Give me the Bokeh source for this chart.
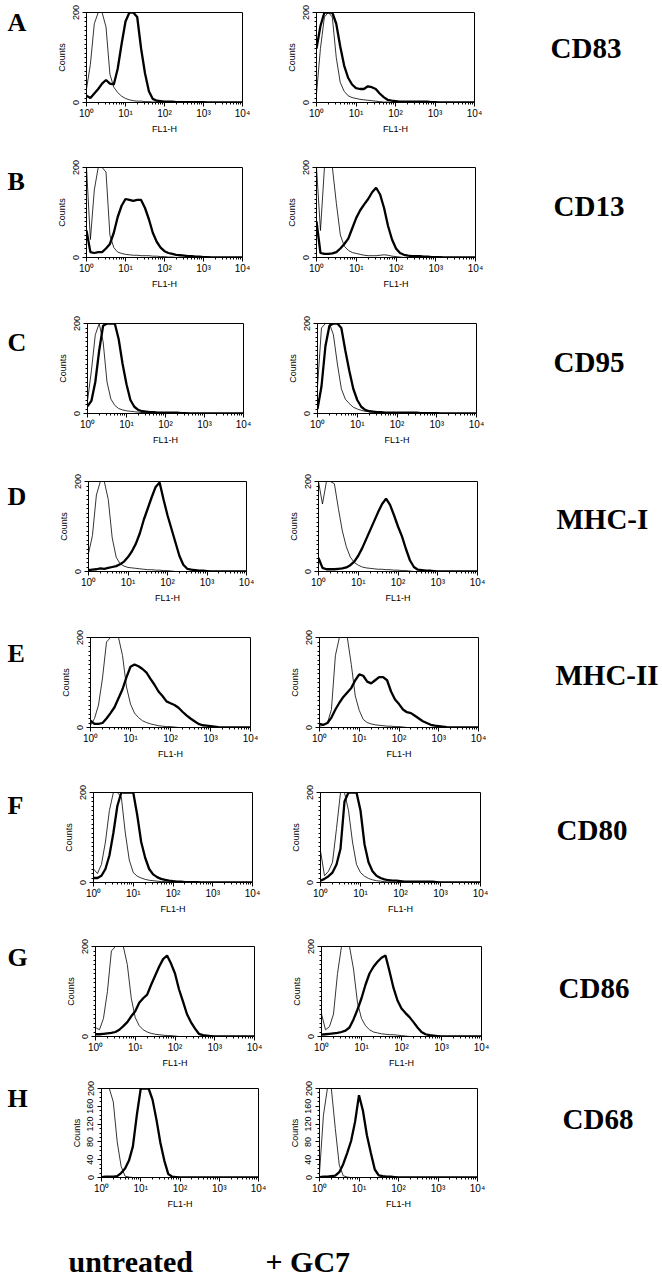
from bokeh.plotting import figure
from bokeh.layouts import row, column
from bokeh.models import FixedTicker, Range1d
from bokeh.core.properties import value
from bokeh.embed import file_html
from bokeh.resources import INLINE

# ---------------- data ----------------
# channel positions, in decades of FL1-H (10^d)
DECADES = [0.0, 0.1, 0.2, 0.3, 0.4, 0.5, 0.6, 0.7, 0.8, 0.9,
           1.0, 1.1, 1.2, 1.3, 1.4, 1.5, 1.6, 1.7, 1.8, 1.9,
           2.0, 2.1, 2.2, 2.3, 2.4, 2.5, 2.6, 2.7, 2.8, 2.9,
           3.0, 3.1, 3.2, 4.0]

PANELS = ["A", "B", "C", "D", "E", "F", "G", "H"]
MARKERS = ["CD83", "CD13", "CD95", "MHC-I", "MHC-II", "CD80", "CD86", "CD68"]
CONDITIONS = ["untreated", "+ GC7"]
X_TICKS = [1, 10, 100, 1000, 10000]
X_TICK_LABELS = ["10\u2070", "10\u00b9", "10\u00b2", "10\u00b3", "10\u2074"]
Y_TICKS_STD = [0, 200]
Y_TICKS_H = [0, 40, 80, 120, 160, 200]

# thin line = isotype control, thick line = marker staining
A_untr_iso = [30, 85, 175, 200, 200, 168, 63, 34, 22, 14,
              9, 6, 4, 3, 3, 2, 2, 1, 1, 1,
              1, 1, 1, 0, 0, 0, 0, 0, 0, 0,
              0, 0, 0, 0]
A_untr_mk = [15, 10, 20, 30, 42, 50, 42, 40, 75, 130,
             180, 200, 200, 190, 120, 65, 25, 8, 4, 3,
             2, 2, 2, 1, 1, 1, 1, 1, 1, 1,
             1, 0, 0, 0]
A_gc7_iso = [20, 120, 190, 200, 190, 100, 45, 25, 15, 11,
             9, 7, 6, 5, 4, 3, 2, 1, 1, 0,
             0, 0, 0, 0, 0, 0, 0, 0, 0, 0,
             0, 0, 0, 0]
A_gc7_mk = [120, 170, 200, 200, 200, 175, 125, 82, 55, 40,
            32, 30, 30, 36, 34, 30, 20, 12, 6, 4,
            3, 2, 2, 2, 2, 2, 2, 2, 2, 1,
            1, 0, 0, 0]

B_untr_iso = [200, 40, 150, 200, 200, 190, 50, 22, 12, 9,
              7, 6, 5, 5, 4, 4, 4, 3, 3, 2,
              2, 1, 1, 0, 0, 0, 0, 0, 0, 0,
              0, 0, 0, 0]
B_untr_mk = [60, 12, 10, 12, 12, 20, 30, 55, 90, 115,
             130, 128, 126, 128, 128, 110, 85, 55, 35, 22,
             14, 10, 8, 6, 5, 4, 3, 3, 2, 2,
             1, 1, 0, 0]
B_gc7_iso = [200, 60, 200, 200, 200, 120, 50, 25, 16, 11,
             9, 7, 5, 4, 4, 4, 5, 6, 5, 3,
             2, 1, 0, 0, 0, 0, 0, 0, 0, 0,
             0, 0, 0, 0]
B_gc7_mk = [80, 10, 8, 8, 9, 12, 20, 30, 42, 65,
            88, 105, 118, 130, 145, 155, 140, 110, 70, 40,
            20, 10, 6, 4, 3, 3, 3, 2, 2, 1,
            1, 1, 0, 0]

C_untr_iso = [28, 95, 175, 200, 160, 70, 32, 18, 11, 8,
              6, 5, 4, 3, 2, 2, 1, 0, 0, 0,
              0, 0, 0, 0, 0, 0, 0, 0, 0, 0,
              0, 0, 0, 0]
C_untr_mk = [16, 28, 70, 140, 195, 200, 200, 200, 165, 110,
             65, 30, 15, 8, 5, 4, 3, 3, 2, 2,
             2, 2, 2, 2, 1, 1, 0, 0, 0, 0,
             0, 0, 0, 0]
C_gc7_iso = [60, 190, 200, 200, 175, 110, 55, 32, 22, 14,
             10, 7, 5, 4, 3, 2, 2, 1, 0, 0,
             0, 0, 0, 0, 0, 0, 0, 0, 0, 0,
             0, 0, 0, 0]
C_gc7_mk = [10, 60, 150, 195, 200, 200, 190, 140, 95, 55,
            30, 15, 8, 5, 4, 3, 3, 2, 2, 2,
            2, 2, 2, 2, 2, 2, 1, 1, 1, 1,
            1, 0, 0, 0]

D_untr_iso = [40, 80, 170, 200, 200, 160, 75, 32, 17, 12,
              9, 8, 7, 6, 5, 4, 4, 3, 3, 2,
              2, 1, 0, 0, 0, 0, 0, 0, 0, 0,
              0, 0, 0, 0]
D_untr_mk = [3, 4, 5, 7, 6, 8, 10, 12, 16, 22,
             32, 45, 62, 85, 115, 140, 165, 188, 198, 160,
             125, 95, 65, 35, 15, 6, 4, 3, 2, 2,
             1, 0, 0, 0]
D_gc7_iso = [200, 150, 200, 200, 195, 140, 90, 55, 32, 20,
             14, 10, 8, 7, 6, 5, 5, 4, 4, 3,
             3, 2, 2, 1, 0, 0, 0, 0, 0, 0,
             0, 0, 0, 0]
D_gc7_mk = [30, 8, 5, 5, 5, 6, 7, 9, 14, 22,
            35, 52, 72, 92, 112, 132, 150, 162, 148, 125,
            100, 78, 50, 25, 10, 4, 3, 2, 2, 1,
            0, 0, 0, 0]

E_untr_iso = [5, 20, 50, 110, 190, 200, 200, 200, 160, 90,
              52, 32, 22, 15, 11, 8, 6, 4, 3, 2,
              2, 1, 0, 0, 0, 0, 0, 0, 0, 0,
              0, 0, 0, 0]
E_untr_mk = [15, 8, 8, 10, 20, 32, 45, 65, 85, 112,
             135, 140, 136, 130, 122, 108, 95, 80, 70, 58,
             54, 50, 44, 35, 27, 20, 14, 8, 5, 4,
             3, 2, 1, 0]
E_gc7_iso = [3, 5, 10, 40, 160, 200, 200, 200, 140, 70,
             38, 18, 11, 8, 6, 5, 4, 3, 3, 2,
             2, 1, 0, 0, 0, 0, 0, 0, 0, 0,
             0, 0, 0, 0]
E_gc7_mk = [8, 6, 10, 22, 40, 55, 68, 78, 88, 105,
            118, 115, 102, 98, 105, 112, 112, 105, 80, 62,
            52, 40, 34, 32, 26, 20, 14, 10, 6, 4,
            3, 2, 1, 0]

F_untr_iso = [30, 20, 40, 90, 160, 200, 200, 190, 110, 50,
              22, 14, 10, 7, 5, 4, 3, 2, 2, 1,
              0, 0, 0, 0, 0, 0, 0, 0, 0, 0,
              0, 0, 0, 0]
F_untr_mk = [10, 10, 15, 30, 60, 110, 170, 200, 200, 200,
             200, 150, 90, 55, 30, 18, 12, 8, 6, 4,
             3, 2, 2, 1, 1, 1, 1, 0, 0, 0,
             0, 0, 0, 0]
F_gc7_iso = [70, 15, 25, 45, 120, 200, 200, 160, 90, 40,
             22, 14, 9, 6, 4, 3, 2, 1, 0, 0,
             0, 0, 0, 0, 0, 0, 0, 0, 0, 0,
             0, 0, 0, 0]
F_gc7_mk = [4, 8, 14, 22, 40, 75, 180, 200, 200, 200,
            160, 85, 45, 25, 15, 10, 7, 5, 4, 4,
            3, 2, 2, 2, 2, 2, 2, 2, 2, 1,
            0, 0, 0, 0]

G_untr_iso = [20, 15, 40, 100, 190, 200, 200, 200, 160, 85,
              42, 24, 15, 10, 7, 5, 4, 3, 2, 2,
              1, 0, 0, 0, 0, 0, 0, 0, 0, 0,
              0, 0, 0, 0]
G_untr_mk = [5, 5, 6, 7, 8, 10, 15, 23, 32, 45,
             56, 75, 85, 93, 115, 135, 155, 172, 180, 162,
             140, 105, 78, 50, 32, 18, 6, 3, 2, 1,
             0, 0, 0, 0]
G_gc7_iso = [50, 15, 22, 50, 140, 200, 200, 200, 150, 75,
             40, 24, 15, 10, 8, 6, 5, 4, 4, 3,
             2, 1, 0, 0, 0, 0, 0, 0, 0, 0,
             0, 0, 0, 0]
G_gc7_mk = [4, 5, 6, 7, 8, 10, 13, 20, 38, 60,
            85, 115, 140, 155, 166, 175, 180, 145, 108, 80,
            62, 52, 43, 32, 20, 10, 5, 3, 2, 1,
            0, 0, 0, 0]

H_untr_iso = [200, 200, 200, 170, 80, 25, 3, 1, 0, 0,
              0, 0, 0, 0, 0, 0, 0, 0, 0, 0,
              0, 0, 0, 0, 0, 0, 0, 0, 0, 0,
              0, 0, 0, 0]
H_untr_mk = [1, 2, 2, 2, 3, 10, 20, 38, 70, 140,
             200, 200, 200, 175, 130, 78, 38, 8, 2, 1,
             0, 0, 0, 0, 0, 0, 0, 0, 0, 0,
             0, 0, 0, 0]
H_gc7_iso = [10, 140, 200, 200, 110, 28, 4, 1, 0, 0,
             0, 0, 0, 0, 0, 0, 0, 0, 0, 0,
             0, 0, 0, 0, 0, 0, 0, 0, 0, 0,
             0, 0, 0, 0]
H_gc7_mk = [1, 2, 2, 3, 4, 12, 30, 55, 82, 125,
            185, 150, 95, 55, 18, 5, 3, 2, 2, 1,
            0, 0, 0, 0, 0, 0, 0, 0, 0, 0,
            0, 0, 0, 0]

UNTREATED = [(A_untr_iso, A_untr_mk), (B_untr_iso, B_untr_mk), (C_untr_iso, C_untr_mk),
             (D_untr_iso, D_untr_mk), (E_untr_iso, E_untr_mk), (F_untr_iso, F_untr_mk),
             (G_untr_iso, G_untr_mk), (H_untr_iso, H_untr_mk)]
GC7 = [(A_gc7_iso, A_gc7_mk), (B_gc7_iso, B_gc7_mk), (C_gc7_iso, C_gc7_mk),
       (D_gc7_iso, D_gc7_mk), (E_gc7_iso, E_gc7_mk), (F_gc7_iso, F_gc7_mk),
       (G_gc7_iso, G_gc7_mk), (H_gc7_iso, H_gc7_mk)]

# ---------------- layout (page pixel positions) ----------------
PAGE_X0, PAGE_Y0, PAGE_X1 = 0, 0, 660
FRAME_TOP = [12, 167, 323, 481, 637, 792, 946, 1088]
FRAME_H = [90, 90, 90, 90, 90, 90, 90, 91]
FL_LEFT = [86, 86, 87, 88, 90, 93, 95, 101]
FL_W = [156, 156, 156, 158, 160, 159, 159, 157]
FR_LEFT = [316, 316, 317, 318, 319, 320, 321, 319]
FR_W = [158, 159, 159, 159, 159, 160, 160, 158]
ROW_GAP_ABOVE = 12
LETTER_LEFT = 7
LETTER_MID = [17, 180, 345, 495, 652, 803, 952, 1091]
MARKER_LEFT = [550, 553, 553, 556, 555, 556, 558, 562]
MARKER_MID = [61, 222, 378, 534, 690, 845, 1000, 1123]
COND_LEFT = [68, 265]
COND_MID = 1261
AXIS_W = 36
RIGHT_PAD = 22
LAST_ROW_H = 135
PAGE_BOTTOM = 1280
SANS = "Liberation Sans Narrow, Liberation Sans"
SERIF = "Liberation Serif"

MINOR_X = [m * 10 ** k for k in range(4) for m in range(2, 10)]
MINOR_Y = list(range(0, 201, 10))


def text_fig(width, height, xs, ys, texts, size):
    p = figure(width=width, height=height, x_range=Range1d(0, width), y_range=Range1d(height, 0),
               output_backend="svg", toolbar_location=None, title=None,
               x_axis_location=None, y_axis_location=None, min_border=0)
    p.grid.visible = False
    p.outline_line_color = None
    p.text(x=xs, y=ys, text=texts, text_font=value(SERIF), text_font_style="bold",
           text_font_size=size, text_color="black", text_align="left",
           text_baseline="middle")
    return p


def hist_fig(width, height, bl, br, bt, bb, iso, mk, yticks):
    p = figure(width=width, height=height, x_axis_type="log",
               x_range=Range1d(1, 10000), y_range=Range1d(0, 200),
               output_backend="svg", toolbar_location=None, title=None,
               min_border_left=bl, min_border_right=br,
               min_border_top=bt, min_border_bottom=bb)
    p.grid.visible = False
    p.outline_line_color = "black"
    p.outline_line_width = 1
    p.background_fill_color = "white"
    xs = [10 ** d for d in DECADES]
    p.line(xs, iso, line_color="black", line_width=0.8)
    p.line(xs, mk, line_color="black", line_width=2.3)

    xa = p.xaxis[0]
    xa.ticker = FixedTicker(ticks=X_TICKS, minor_ticks=MINOR_X)
    xa.major_label_overrides = {t: lab for t, lab in zip(X_TICKS, X_TICK_LABELS)}
    xa.axis_label = "FL1-H"
    xa.major_label_standoff = 1
    xa.axis_label_standoff = 2
    xa.major_label_text_font_size = "10px"

    ya = p.yaxis[0]
    ya.ticker = FixedTicker(ticks=yticks, minor_ticks=MINOR_Y)
    ya.axis_label = "Counts"
    ya.major_label_orientation = "vertical"
    ya.major_label_standoff = 4
    ya.axis_label_standoff = 3
    ya.major_label_text_font_size = "9px"

    for ax in (xa, ya):
        ax.axis_line_color = "black"
        ax.major_tick_line_color = "black"
        ax.minor_tick_line_color = "black"
        ax.major_tick_out = 4
        ax.major_tick_in = 0
        ax.minor_tick_out = 2
        ax.minor_tick_in = 0
        ax.major_label_text_font = SANS
        ax.major_label_text_color = "black"
        ax.axis_label_text_font = SANS
        ax.axis_label_text_font_size = "9px"
        ax.axis_label_text_font_style = "normal"
        ax.axis_label_text_color = "black"
    return p


rows = []
n = len(PANELS)
row_end = PAGE_Y0
for i in range(n):
    top = PAGE_Y0 if i == 0 else FRAME_TOP[i] - ROW_GAP_ABOVE
    nxt = (FRAME_TOP[i + 1] - ROW_GAP_ABOVE) if i < n - 1 else top + LAST_ROW_H
    h = nxt - top
    row_end = nxt
    bt = FRAME_TOP[i] - top
    bb = h - bt - FRAME_H[i]

    letter_w = FL_LEFT[i] - AXIS_W - PAGE_X0
    left_w = FR_LEFT[i] - FL_LEFT[i]
    right_w = AXIS_W + FR_W[i] + RIGHT_PAD
    marker_x0 = FR_LEFT[i] - AXIS_W + right_w
    marker_w = PAGE_X1 - marker_x0
    yt = Y_TICKS_H if i == n - 1 else Y_TICKS_STD

    f_letter = text_fig(letter_w, h, [LETTER_LEFT - PAGE_X0], [LETTER_MID[i] - top],
                        [PANELS[i]], "26px")
    f_left = hist_fig(left_w, h, AXIS_W, left_w - AXIS_W - FL_W[i], bt, bb,
                      UNTREATED[i][0], UNTREATED[i][1], yt)
    f_right = hist_fig(right_w, h, AXIS_W, RIGHT_PAD, bt, bb,
                       GC7[i][0], GC7[i][1], yt)
    f_marker = text_fig(marker_w, h, [MARKER_LEFT[i] - marker_x0], [MARKER_MID[i] - top],
                        [MARKERS[i]], "29px")
    rows.append(row(f_letter, f_left, f_right, f_marker, spacing=0))

bottom_h = PAGE_BOTTOM - row_end
f_bottom = text_fig(PAGE_X1 - PAGE_X0, bottom_h, [x - PAGE_X0 for x in COND_LEFT],
                    [COND_MID - row_end, COND_MID - row_end], CONDITIONS, "30px")
rows.append(f_bottom)

layout = column(*rows, spacing=0)
open("out.html", "w").write(file_html(layout, INLINE))
